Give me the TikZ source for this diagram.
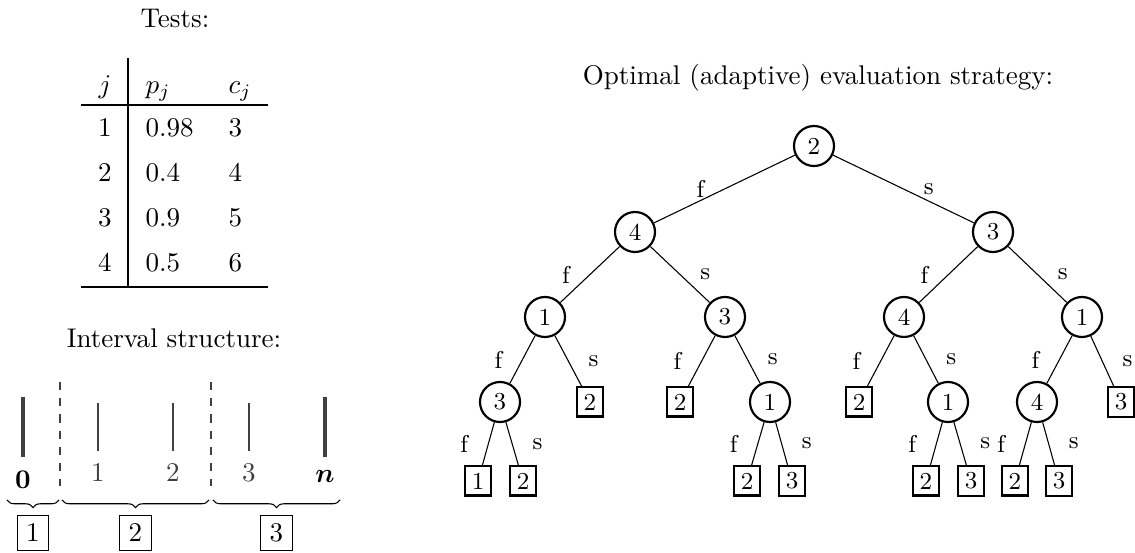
\documentclass[tikz,border=0pt]{standalone}
\usepackage{amsmath}
\usetikzlibrary{decorations.pathreplacing}

\tikzset{
	test/.style = {circle, draw, line width = 0.8pt, minimum size = 14.8pt, inner sep = 0pt, font = \small},
	leaf/.style = {rectangle, draw, line width = 0.8pt, inner sep = 2.4pt, font = \small},
	cls/.style = {rectangle, draw, inner sep = 3.33pt},
	tick/.style = {black!75, line width = 0.8pt},
	bigtick/.style = {black!75, line width = 1.4pt},
	cut/.style = {black!75, dashed, line width = 0.8pt},
	rule/.style = {line width = 0.9pt}
}

\begin{document}
\begin{tikzpicture}[x = 0.37pt, y = -0.37pt]

	% Frame
	
	\useasboundingbox (0, 0) rectangle (1135, 553);
	
	% Titles
	
	\node [anchor = base] (tests-title) at (175, 28) {Tests:};
	\node [anchor = base] (interval-title) at (174, 348) {Interval structure:};
	\node [anchor = base] (tree-title) at (818, 85) {Optimal (adaptive) evaluation strategy:};
	
	% Table of tests
	
	\node [anchor = base] (head-j) at (105, 93.5) {$j$};
	\node [anchor = base west, inner sep = 0pt] (head-p) at (145, 93.5) {$p_j$};
	\node [anchor = base west, inner sep = 0pt] (head-c) at (228, 93.5) {$c_j$};
	
	\foreach \j/\p/\c in {1/0.98/3, 2/0.4/4, 3/0.9/5, 4/0.5/6}
	{
		\node [anchor = base] (j-\j) at (105, {92 + 45 * \j}) {$\j$};
		\node [anchor = base west, inner sep = 0pt] (p-\j) at (145, {92 + 45 * \j}) {$\p$};
		\node [anchor = base west, inner sep = 0pt] (c-\j) at (228, {92 + 45 * \j}) {$\c$};
	}
	
	\draw [rule] (128, 58) -- (128, 287);
	\draw [rule] (81, 105) -- (268, 105);
	\draw [rule] (81, 287) -- (268, 287);
	
	% Interval structure
	
	\draw [bigtick] (23, 397) -- (23, 457) node [below = 1pt, black] (pos-0) {$\mathbf{0}$};
	\draw [bigtick] (325, 397) -- (325, 457) node [below = 1pt, black] (pos-n) {$\boldsymbol{n}$};
	
	\foreach \x/\k in {98/1, 173/2, 249/3}
		\draw [tick] (\x, 403) -- (\x, 451) node [below = 1pt] (pos-\k) {$\k$};
	
	\foreach \x in {60, 211}
		\draw [cut] (\x, 382) -- (\x, 486);
	
	% Classes under the braces
	
	\foreach \a/\b/\k in {7/59/1, 62/209/2, 213/340/3}
	{
		\draw [decorate, decoration = {brace, mirror, amplitude = 2.8pt}] (\a, 500) -- (\b, 500);
		\node [cls] (class-\k) at ({(\a + \b) / 2}, 533) {$\k$};
	}
	
	% Strategy tree
	
	\node [test] (r) at (814, 146) {2};
	
	\node [test] (rf) at (635, 232) {4};
	\node [test] (rs) at (993, 232) {3};
	
	\node [test] (rff) at (545, 317) {1};
	\node [test] (rfs) at (725, 317) {3};
	\node [test] (rsf) at (904, 317) {4};
	\node [test] (rss) at (1082, 317) {1};
	
	\node [test] (rfff) at (500, 402) {3};
	\node [leaf] (rffs) at (590, 402) {2};
	\node [leaf] (rfsf) at (680, 402) {2};
	\node [test] (rfss) at (770, 402) {1};
	\node [leaf] (rsff) at (859, 402) {2};
	\node [test] (rsfs) at (948, 402) {1};
	\node [test] (rssf) at (1037, 402) {4};
	\node [leaf] (rsss) at (1121, 402) {3};
	
	\node [leaf] (rffff) at (478, 481) {1};
	\node [leaf] (rfffs) at (523, 481) {2};
	\node [leaf] (rfssf) at (747, 481) {2};
	\node [leaf] (rfsss) at (792, 481) {3};
	\node [leaf] (rsfsf) at (926, 481) {2};
	\node [leaf] (rsfss) at (971, 481) {3};
	\node [leaf] (rssff) at (1015, 481) {2};
	\node [leaf] (rssfs) at (1059, 481) {3};
	
	% Branches: f to the left, s to the right
	
	\foreach \a/\b in {r/rf, rf/rff, rs/rsf, rff/rfff, rfs/rfsf, rsf/rsff, rss/rssf, rfff/rffff, rfss/rfssf, rsfs/rsfsf, rssf/rssff}
		\draw (\a) -- node [left = 4pt, font = \small] {f} (\b);
	
	\foreach \a/\b in {r/rs, rf/rfs, rs/rss, rff/rffs, rfs/rfss, rsf/rsfs, rss/rsss, rfff/rfffs, rfss/rfsss, rsfs/rsfss, rssf/rssfs}
		\draw (\a) -- node [right = 4pt, font = \small] {s} (\b);
	
\end{tikzpicture}
\end{document}
